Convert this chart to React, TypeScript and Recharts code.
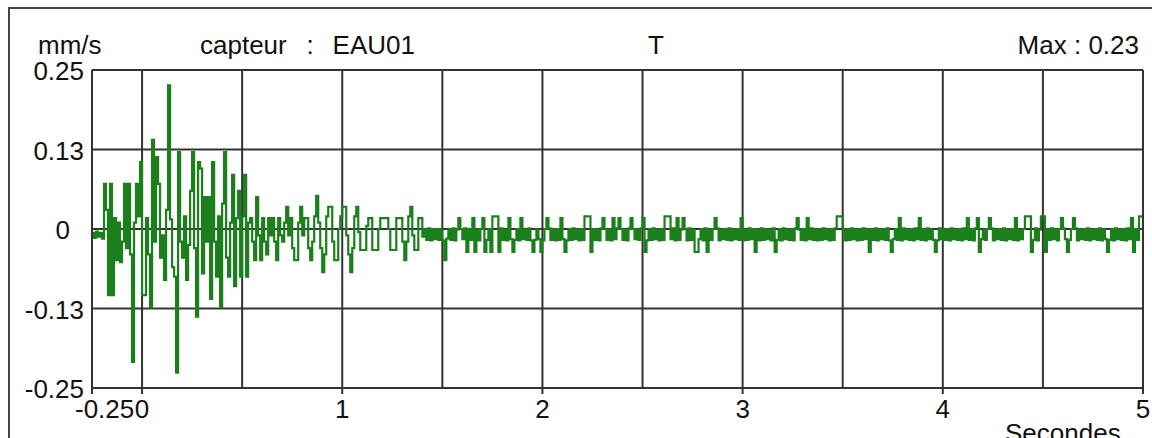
import React from 'react';
import { LineChart, Line, XAxis, YAxis, ReferenceLine } from 'recharts';

// sampling of the record
const startSec = -0.25;
const stepSec = 0.01;

// velocity samples in µm/s (converted to mm/s below)
const burst = [
  -6, -14, -4, -12, -6, -15, 71, 30, -104, 71,
  -104, 17, -49, 10, -52, -20, 71, -30, 71, -40,
  -209, 10, 71, 20, 105, -104, -104, 17, -40, -123,
  140, -20, 113, 71, -45, -10, -80, 30, 226, 15,
  -60, -75, -226, 121, -20, -45, 20, -80, -25, 60,
  121, -30, -138, 105, 95, -70, 50, -20, 50, -110,
  105, -20, -75, 20, -123, 40, 121, -45, -75, 10,
  85, -90, 17, 60, -75, 20, 85, -75, 10, 17,
  -20, -49, 50, -10, -49, 17, -20, -40, 17, -10,
  17, -20, -49, 17, -10,
];

const decay = [
  -20, 10, 35, -10, 17, -30, -49, -49, 10, 35,
  -10, 17, 17, -30, -49, -20, 20, 52, 10, -30,
  -68, -40, 20, 35, 35, -20, -49, -49, 0, 20,
  35, 35, -10, -40, -68, -30, 20, 35, -5, -33,
  -33, -33, 5, 17, 17, -33, -33, -33, 0, 17,
  17, 17, 17, 0, -33, -33, -33, 17, 17, 17,
  -20, -49, -20, 20, 35, -10, -33, -33, 17, 17, -12,
];

const tailA = [
  -1, -17, 1, -18, 0, -16, 0, -17, -1, -18,
  -49, -15, 0, -17, 1, -18, -1, 17, 0, -16,
  1, -36, 0, -17, 17, -36, -1, -18, 0, 17,
  -36, -17, 0, -36, 20, 20, 20, -36, 1, -17,
  -1, -18, 17, -16, -36, -17, 0, -18, 17, -16,
  -1, -17, 1, -18, -36, -17, -1, -16, -36, -18,
  0, 17, 1, -17, -1, -18, 0, -17, 17, -16,
  -36, -18, 0, -17, 1, -16, -1, -18, 0, -17,
  20, 20, 20, -36, 0, -17, -1, -18, 1, 17,
  0, -17, -1, -18, 17, -16, 1, 17, 0, -17,
  -1, -18, 1, 17, 0, -16, -1, -17, 1, 17,
  -36, -18, 0, -17, 1, -16, -1, -18, 0, -17,
  20, 20, 20, -16, 1, -18, 17, -17, -1, 17,
  0, -18, 1, -17, -1, -36, -36, -16, 0, -18,
  1, -36, -1, -17, 0, 17, 1, -18, -1, -16,
  0, -17, 1, -18, -1, -16, 0, -17, 17, -18,
  -1, -17, 1, -16, 0, -36, -1, -18, 1, -17,
  0, -16, -1, -18, 1,
];

const tailB = [
  -36, -17, 0, -18, 1, -16, -1, -17, 0, -18,
  1, 17, -1, -17, 0, -18, 17, -16, 1, -17,
  -1, -18, 0, -17, 1, -16, -1, -18, 0, -17,
  1, 20, 20, 20, -1, -18, 0, -17, 1, -16,
  -1, -18, 0, -17, 1, -16, -1, -36, 0, -17,
  1, -18, -1, -16, 0, -17, 1, -18, -36, -16,
  0, -17, 17, -18, 1, -16, -1, -17, 0, -18,
  1, -16, 17, -17, 0, -18, 1, -16, -1, -17,
  -36, -18, 1, -16, -1, -17, 0, -18, 1, -16,
  -1, -17, 0, -18, 1, -16, 17, -17, 0, -18,
  1, 17, -36, -16, -1, -17, 0, 17, 1, -18,
  -1, -16, 0, -17, 1, -18, -1, -16, 0, -17,
  17, -18, -1, -16, 0, 20, 20, 20, -36, -17,
  1, -18, -1, 20, 20, -36, 0, -17, 1, -16,
  -1, -18, 0, 17, 1, -16, -36, -17, 0, 17,
  1, -18, -1, -16, 0, -17, 1, -18, -1, -16,
  0, -17, 1, -18, -1, -16, -36, -17, 0, -18,
  1, -16, -1, -17, 0, -18, 1, -16, 17, -36,
  0, -17, 20, 20, -1,
];

const xTicks = [-0.25, 0, 1, 2, 3, 4, 5];
const xTickLabels = ['-0.25', '0', '1', '2', '3', '4', '5'];
const yTicks = [-0.25, -0.125, 0, 0.125, 0.25];
const yTickLabels = ['-0.25', '-0.13', '0', '0.13', '0.25'];
const gridSeconds = [0, 0.5, 1, 1.5, 2, 2.5, 3, 3.5, 4, 4.5];
const gridLevels = [-0.125, 0, 0.125];

const samples = [...burst, ...decay, ...tailA, ...tailB];
const data = samples.map((um, i) => ({
  t: +(startSec + i * stepSec).toFixed(2),
  v: um / 1000,
}));

const FONT = '"Liberation Sans", Arial, sans-serif';
const INK = '#111';
const GRID = '#333';

const XTick = (props: any) => {
  const { x, y, payload } = props;
  const idx = xTicks.indexOf(payload.value);
  const first = idx === 0;
  return (
    <text
      x={first ? x - 17 : x}
      y={y}
      dy={22}
      textAnchor={first ? 'start' : 'middle'}
      fontFamily={FONT}
      fontSize={26}
      fill={INK}
    >
      {xTickLabels[idx]}
    </text>
  );
};

const YTick = (props: any) => {
  const { x, y, payload } = props;
  const idx = yTicks.indexOf(payload.value);
  // the zero label sits a little further left in the original
  const shift = payload.value === 0 ? -14 : 0;
  return (
    <text x={x + shift} y={y} dy={10} textAnchor="end" fontFamily={FONT} fontSize={26} fill={INK}>
      {yTickLabels[idx]}
    </text>
  );
};

const App = () => {
  return (
    <div style={{ position: 'absolute', left: 0, top: 0, width: 1152, height: 438, background: '#fff' }}>
      <LineChart width={1152} height={438} data={data} margin={{ top: 70, right: 9, bottom: 20, left: 32 }}>
        <XAxis
          type="number"
          dataKey="t"
          domain={[-0.25, 5]}
          ticks={xTicks}
          interval={0}
          allowDataOverflow
          axisLine={false}
          tickLine={{ stroke: GRID, strokeWidth: 2 }}
          tickSize={6}
          height={30}
          tick={<XTick />}
        />
        <YAxis
          type="number"
          domain={[-0.25, 0.25]}
          ticks={yTicks}
          interval={0}
          allowDataOverflow
          axisLine={false}
          tickLine={false}
          tickSize={0}
          tickMargin={8}
          width={60}
          tick={<YTick />}
        />
        {gridSeconds.map((s) => (
          <ReferenceLine key={'v' + s} x={s} stroke={GRID} strokeWidth={2} />
        ))}
        {gridLevels.map((l) => (
          <ReferenceLine key={'h' + l} y={l} stroke={GRID} strokeWidth={2} />
        ))}
        <Line
          type="stepAfter"
          dataKey="v"
          stroke="#1b801b"
          strokeWidth={2.2}
          dot={false}
          isAnimationActive={false}
        />
        <ReferenceLine x={-0.25} stroke={GRID} strokeWidth={2} />
        <ReferenceLine x={5} stroke={GRID} strokeWidth={2} />
        <ReferenceLine y={0.25} stroke={GRID} strokeWidth={2} />
        <ReferenceLine y={-0.25} stroke={GRID} strokeWidth={2} />
      </LineChart>
      <svg
        width={1152}
        height={438}
        style={{ position: 'absolute', left: 0, top: 0, pointerEvents: 'none' }}
        fontFamily={FONT}
        fontSize={26}
        fill={INK}
      >
        <path d="M9 440 L9 8 L1160 8" fill="none" stroke="#444" strokeWidth={2} />
        <text x={38} y={54}>mm/s</text>
        <text x={200} y={54}>capteur</text>
        <text x={310} y={54} textAnchor="middle">:</text>
        <text x={415} y={54} textAnchor="end">EAU01</text>
        <text x={656} y={54} textAnchor="middle">T</text>
        <text x={1139} y={54} textAnchor="end">Max : 0.23</text>
        <text x={1005} y={442}>Secondes</text>
      </svg>
    </div>
  );
};

export default App;
